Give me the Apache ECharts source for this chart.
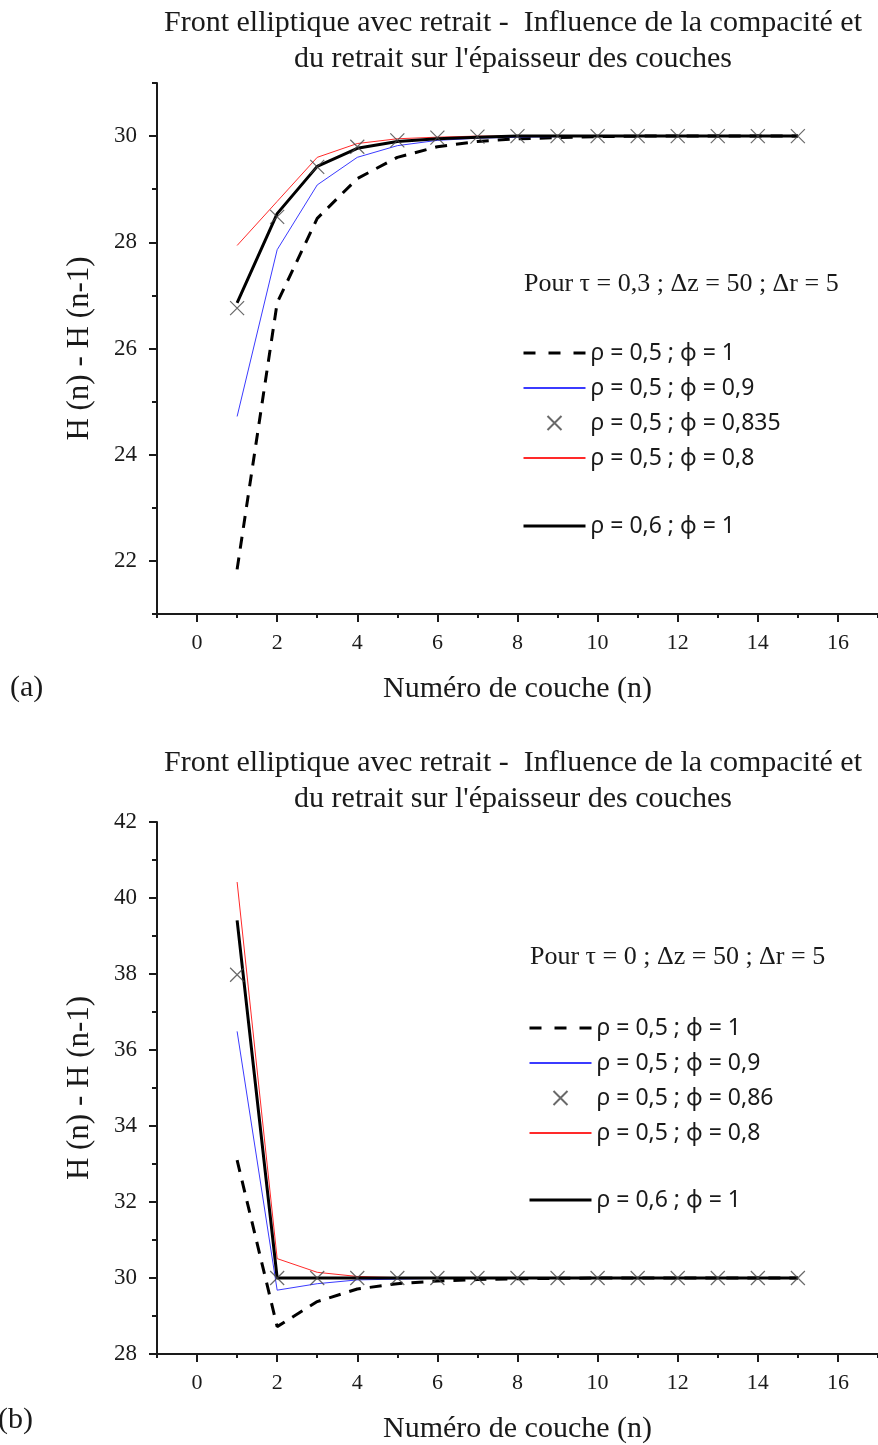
<!DOCTYPE html>
<html>
<head>
<meta charset="utf-8">
<script src="https://cdn.jsdelivr.net/npm/echarts@6/dist/echarts.min.js"></script>
<style>
html,body{margin:0;padding:0;background:#fff;}
#chart{width:878px;height:1445px;}
</style>
</head>
<body>
<div id="chart"></div>
<script>
// ---- data ----
const layers = [1,2,3,4,5,6,7,8,9,10,11,12,13,14,15];

// (a) tau = 0.3
const aRho05Phi1   = [21.84,26.86,28.45,29.20,29.60,29.80,29.90,29.95,29.97,29.99,30.00,30.00,30.00,30.00,30.00];
const aRho05Phi09  = [24.72,27.86,29.08,29.60,29.82,29.92,29.96,29.98,29.99,30.00,30.00,30.00,30.00,30.00,30.00];
const aRho05Phi0835= [26.76,28.48,29.42,29.80,29.92,29.97,29.99,30.00,30.00,30.00,30.00,30.00,30.00,30.00,30.00];
const aRho05Phi08  = [27.94,28.77,29.60,29.86,29.95,29.98,30.00,30.00,30.00,30.00,30.00,30.00,30.00,30.00,30.00];
const aRho06Phi1   = [26.86,28.54,29.43,29.77,29.90,29.95,29.98,30.00,30.00,30.00,30.00,30.00,30.00,30.00,30.00];

// (b) tau = 0
const bRho05Phi1   = [33.10,28.72,29.38,29.71,29.85,29.92,29.96,29.98,29.99,30.00,30.00,30.00,30.00,30.00,30.00];
const bRho05Phi09  = [36.49,29.68,29.85,29.95,29.97,29.99,30.00,30.00,30.00,30.00,30.00,30.00,30.00,30.00,30.00];
const bRho05Phi086 = [37.98,30.00,30.00,30.00,30.00,30.00,30.00,30.00,30.00,30.00,30.00,30.00,30.00,30.00,30.00];
const bRho05Phi08  = [40.42,30.51,30.15,30.04,30.01,30.00,30.00,30.00,30.00,30.00,30.00,30.00,30.00,30.00,30.00];
const bRho06Phi1   = [39.41,30.00,30.00,30.00,30.00,30.00,30.00,30.00,30.00,30.00,30.00,30.00,30.00,30.00,30.00];

const xMajorTicks = [0,2,4,6,8,10,12,14,16];
const xMinorTicks = [-1,1,3,5,7,9,11,13,15,17];
const aYMajorTicks = [22,24,26,28,30];
const aYMinorTicks = [21,23,25,27,29,31];
const bYMajorTicks = [28,30,32,34,36,38,40,42];
const bYMinorTicks = [29,31,33,35,37,39,41];

const names = {
  n1: 'ρ = 0,5 ; ϕ = 1',
  n2: 'ρ = 0,5 ; ϕ = 0,9',
  n3a: 'ρ = 0,5 ; ϕ = 0,835',
  n3b: 'ρ = 0,5 ; ϕ = 0,86',
  n4: 'ρ = 0,5 ; ϕ = 0,8',
  n5: 'ρ = 0,6 ; ϕ = 1'
};
const titleLine1 = 'Front elliptique avec retrait -  Influence de la compacité et';
const titleLine2 = "du retrait sur l'épaisseur des couches";
const xName = 'Numéro de couche (n)';
const yName = 'H (n) - H (n-1)';
const aNote = 'Pour τ = 0,3 ; Δz = 50 ; Δr = 5';
const bNote = 'Pour τ = 0 ; Δz = 50 ; Δr = 5';

// ---- chart ----
const SERIF = '"Liberation Serif", "DejaVu Serif", serif';
const SANS = '"Noto Sans", "DejaVu Sans", sans-serif';
const INK = '#1a1a1a';
const pairs = arr => layers.map((x, i) => [x, arr[i]]);
const crossPath = 'path://M0,0L10,10M10,0L0,10';

const chart = echarts.init(document.getElementById('chart'), null, {renderer: 'canvas'});

const grids = [
  {left: 157, top: 83, width: 721, height: 531},
  {left: 157, top: 822, width: 721, height: 532}
];

function xAxes(g) {
  return [
    {
      type: 'value', gridIndex: g, min: -1, max: 17, position: 'bottom',
      axisLine: {show: true, onZero: false, lineStyle: {color: INK, width: 2}},
      axisTick: {show: true, inside: false, length: 8, customValues: xMajorTicks, lineStyle: {color: INK, width: 2}},
      axisLabel: {show: true, customValues: xMajorTicks, margin: 18, fontFamily: SERIF, fontSize: 22, color: INK},
      splitLine: {show: false},
      name: xName, nameLocation: 'middle', nameGap: 60,
      nameTextStyle: {fontFamily: SERIF, fontSize: 30, color: INK}
    },
    {
      type: 'value', gridIndex: g, min: -1, max: 17, position: 'bottom',
      axisLine: {show: false, onZero: false},
      axisTick: {show: true, inside: false, length: 4, customValues: xMinorTicks, lineStyle: {color: INK, width: 2}},
      axisLabel: {show: false},
      splitLine: {show: false}
    }
  ];
}
function yAxes(g, min, max, major, minor) {
  return [
    {
      type: 'value', gridIndex: g, min: min, max: max, position: 'left',
      axisLine: {show: true, onZero: false, lineStyle: {color: INK, width: 2}},
      axisTick: {show: true, inside: false, length: 8, customValues: major, lineStyle: {color: INK, width: 2}},
      axisLabel: {show: true, customValues: major, margin: 20, fontFamily: SERIF, fontSize: 23, color: INK},
      splitLine: {show: false},
      name: yName, nameLocation: 'middle', nameGap: 62, nameRotate: 90,
      nameTextStyle: {fontFamily: SERIF, fontSize: 31, color: INK}
    },
    {
      type: 'value', gridIndex: g, min: min, max: max, position: 'left',
      axisLine: {show: false, onZero: false},
      axisTick: {show: true, inside: false, length: 5, customValues: minor, lineStyle: {color: INK, width: 2}},
      axisLabel: {show: false},
      splitLine: {show: false}
    }
  ];
}

function seriesFor(g, d1, d2, d3, d4, d5, n3) {
  const xi = g * 2, yi = g * 2;
  return [
    {type: 'line', name: names.n1, xAxisIndex: xi, yAxisIndex: yi, data: pairs(d1), symbol: 'none',
     lineStyle: {color: '#000', width: 3, type: [12, 9]}, itemStyle: {color: '#000', opacity: 0}, z: 3},
    {type: 'line', name: names.n2, xAxisIndex: xi, yAxisIndex: yi, data: pairs(d2), symbol: 'none',
     lineStyle: {color: '#3b3bff', width: 1}, itemStyle: {color: '#3b3bff', opacity: 0}, z: 3},
    {type: 'line', name: names.n4, xAxisIndex: xi, yAxisIndex: yi, data: pairs(d4), symbol: 'none',
     lineStyle: {color: '#ff2a2a', width: 1}, itemStyle: {color: '#ff2a2a', opacity: 0}, z: 3},
    {type: 'line', name: names.n5, xAxisIndex: xi, yAxisIndex: yi, data: pairs(d5), symbol: 'none',
     lineStyle: {color: '#000', width: 3}, itemStyle: {color: '#000', opacity: 0}, z: 4},
    {type: 'scatter', name: n3, xAxisIndex: xi, yAxisIndex: yi, data: pairs(d3), symbol: crossPath, symbolSize: 14,
     itemStyle: {color: 'none', borderColor: '#444', borderWidth: 1.2}, z: 5}
  ];
}

function legendItem(name, kind) {
  if (kind === 'dash') return {name: name, itemStyle: {opacity: 0}, lineStyle: {color: '#000', width: 3, type: [12, 13]}};
  if (kind === 'thick') return {name: name, itemStyle: {opacity: 0}, lineStyle: {color: '#000', width: 3}};
  if (kind === 'thin') return {name: name, itemStyle: {opacity: 0}};
  return {name: name};
}

function legendFor(left, top, data) {
  return {
    orient: 'vertical', left: left, top: top, data: data,
    itemWidth: 62, itemHeight: 14, itemGap: 9, selectedMode: false,
    symbolKeepAspect: true,
    textStyle: {fontFamily: SANS, fontSize: 23, color: INK, lineHeight: 26}
  };
}

function textEl(x, y, text, font, align) {
  return {type: 'text', x: x, y: y, silent: true,
    style: {text: text, font: font, fill: INK, textAlign: align || 'left', align: align || 'left',
            textVerticalAlign: 'middle', verticalAlign: 'middle'}};
}

const option = {
  backgroundColor: '#fff',
  animation: false,
  grid: grids,
  xAxis: [...xAxes(0), ...xAxes(1)],
  yAxis: [...yAxes(0, 21, 31, aYMajorTicks, aYMinorTicks), ...yAxes(1, 28, 42, bYMajorTicks, bYMinorTicks)],
  legend: [
    legendFor(517, 335, [legendItem(names.n1, 'dash'), legendItem(names.n2, 'thin'), legendItem(names.n3a, 'x'), legendItem(names.n4, 'thin')]),
    legendFor(517, 508, [legendItem(names.n5, 'thick')]),
    legendFor(523, 1010, [legendItem(names.n1, 'dash'), legendItem(names.n2, 'thin'), legendItem(names.n3b, 'x'), legendItem(names.n4, 'thin')]),
    legendFor(523, 1182, [legendItem(names.n5, 'thick')])
  ],
  series: [
    ...seriesFor(0, aRho05Phi1, aRho05Phi09, aRho05Phi0835, aRho05Phi08, aRho06Phi1, names.n3a),
    ...seriesFor(1, bRho05Phi1, bRho05Phi09, bRho05Phi086, bRho05Phi08, bRho06Phi1, names.n3b)
  ],
  graphic: [
    textEl(513, 23, titleLine1, '30px ' + SERIF, 'center'),
    textEl(513, 59, titleLine2, '30px ' + SERIF, 'center'),
    textEl(524, 284, aNote, '26px ' + SERIF, 'left'),
    textEl(10, 688, '(a)', '30px ' + SERIF, 'left'),
    textEl(513, 763, titleLine1, '30px ' + SERIF, 'center'),
    textEl(513, 799, titleLine2, '30px ' + SERIF, 'center'),
    textEl(530, 957, bNote, '26px ' + SERIF, 'left'),
    textEl(-2, 1420, '(b)', '30px ' + SERIF, 'left')
  ]
};
chart.setOption(option);
</script>
</body>
</html>
